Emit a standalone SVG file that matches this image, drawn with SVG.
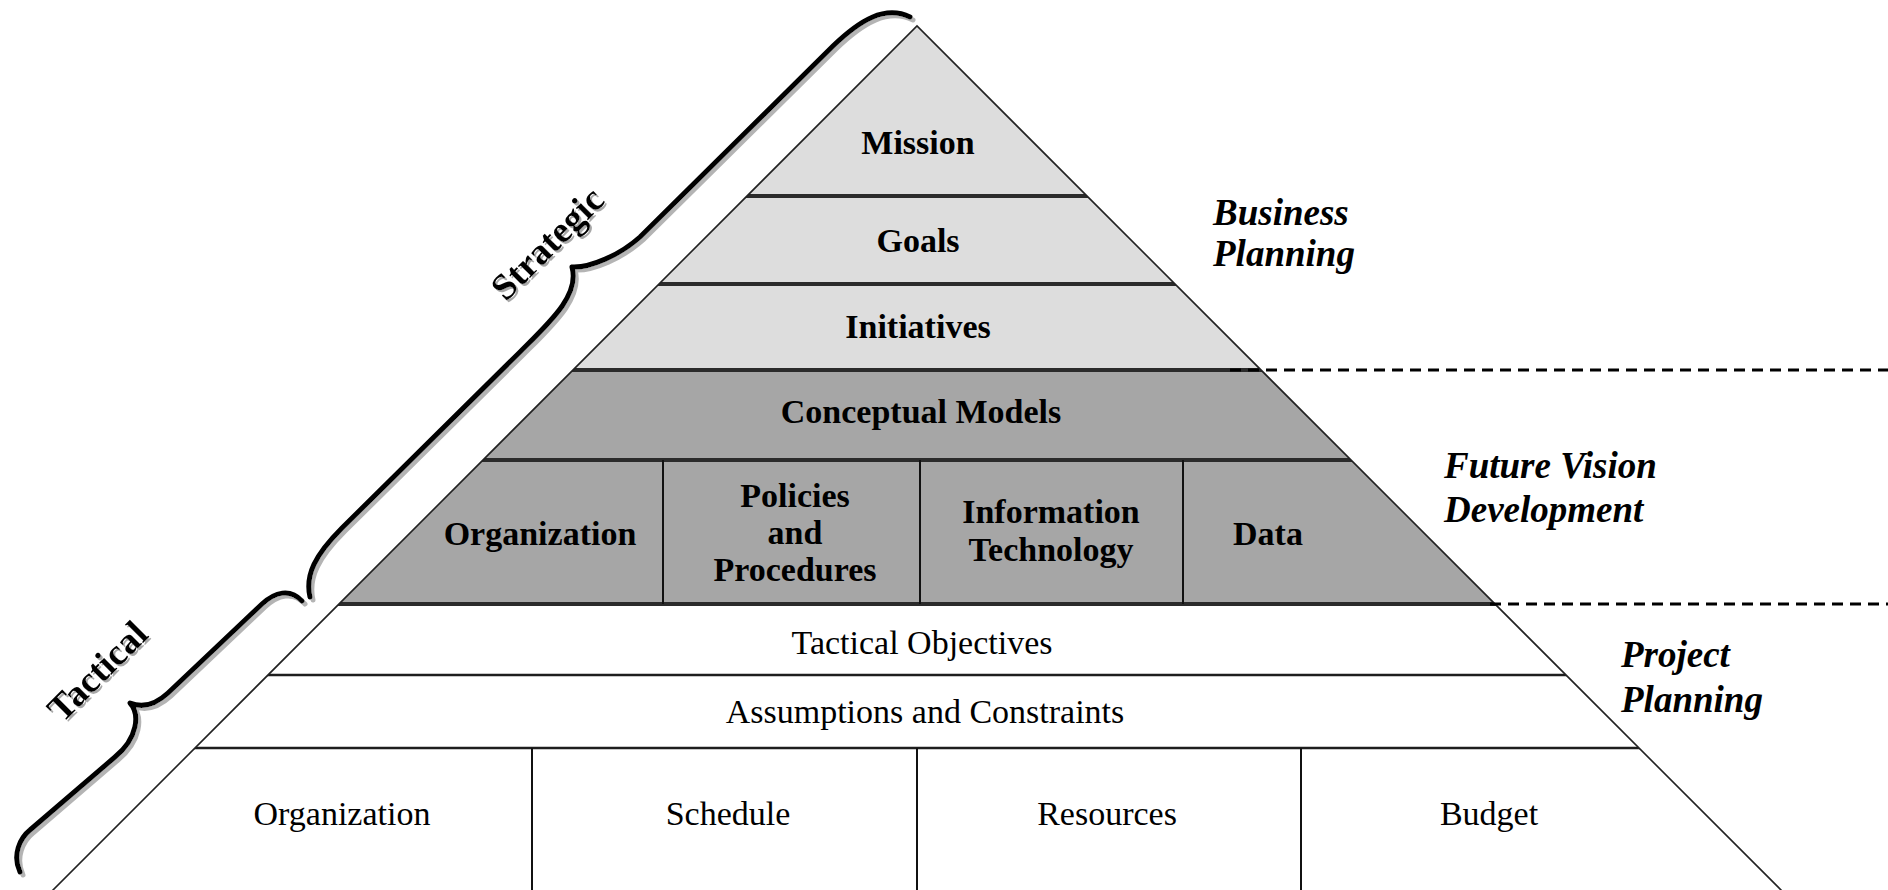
<svg xmlns="http://www.w3.org/2000/svg" width="1888" height="890" viewBox="0 0 1888 890">
  <defs>
    <clipPath id="tri">
      <polygon points="917,26 43,900 1791,900"/>
    </clipPath>
    <filter id="shadow" x="-10%" y="-10%" width="130%" height="130%">
      <feOffset in="SourceAlpha" dx="3" dy="3" result="off"/>
      <feFlood flood-color="#b4b4b4"/>
      <feComposite in2="off" operator="in" result="sh"/>
      <feMerge><feMergeNode in="sh"/><feMergeNode in="SourceGraphic"/></feMerge>
    </filter>
    <filter id="tshadow" x="-10%" y="-10%" width="130%" height="130%">
      <feOffset in="SourceAlpha" dx="2" dy="2" result="off"/>
      <feFlood flood-color="#a8a8a8"/>
      <feComposite in2="off" operator="in" result="sh"/>
      <feMerge><feMergeNode in="sh"/><feMergeNode in="SourceGraphic"/></feMerge>
    </filter>
  </defs>
  <style>
    .light { fill: #dddddd; }
    .dark { fill: #a6a6a6; }
    .band { stroke: #2b2b2b; stroke-width: 4; }
    .thin { stroke: #1e1e1e; stroke-width: 2.5; }
    .div { stroke: #111111; stroke-width: 2; }
    .edge { fill: none; stroke: #222222; stroke-width: 1.6; }
    .dash { stroke: #000000; stroke-width: 3; stroke-dasharray: 11 7; }
    .brace { fill: none; stroke: #000000; stroke-width: 5; stroke-linecap: round; stroke-linejoin: round; }
    text { font-family: "Liberation Serif", "Times New Roman", serif; fill: #000000; }
    .b { font-size: 34px; font-weight: bold; text-anchor: middle; }
    .r { font-size: 34px; text-anchor: middle; }
    .bi { font-size: 37px; font-weight: bold; font-style: italic; }
    .rot { font-size: 37px; font-weight: bold; text-anchor: middle; }
  </style>
  <rect x="0" y="0" width="1888" height="890" fill="#ffffff"/>

  <g id="pyramid-fill" clip-path="url(#tri)">
    <rect class="light" x="0" y="0" width="1888" height="370"/>
    <rect class="dark" x="0" y="370" width="1888" height="234"/>
    <rect fill="#ffffff" x="0" y="604" width="1888" height="300"/>
  </g>

  <g id="separators" clip-path="url(#tri)">
    <line class="band" x1="0" y1="196" x2="1888" y2="196"/>
    <line class="band" x1="0" y1="284" x2="1888" y2="284"/>
    <line class="band" x1="0" y1="370" x2="1888" y2="370"/>
    <line class="band" x1="0" y1="460" x2="1888" y2="460"/>
    <line class="band" x1="0" y1="604" x2="1888" y2="604"/>
    <line class="thin" x1="0" y1="675" x2="1888" y2="675"/>
    <line class="thin" x1="0" y1="748" x2="1888" y2="748"/>
    <line class="div" x1="663" y1="460" x2="663" y2="604"/>
    <line class="div" x1="920" y1="460" x2="920" y2="604"/>
    <line class="div" x1="1183" y1="460" x2="1183" y2="604"/>
    <line class="div" x1="532" y1="748" x2="532" y2="900"/>
    <line class="div" x1="917" y1="748" x2="917" y2="900"/>
    <line class="div" x1="1301" y1="748" x2="1301" y2="900"/>
  </g>

  <g id="outline">
    <polyline class="edge" points="43,900 917,26 1791,900"/>
  </g>

  <g id="connectors">
    <line class="dash" x1="1230" y1="370" x2="1888" y2="370"/>
    <line class="dash" x1="1490" y1="604" x2="1888" y2="604"/>
  </g>

  <g id="mission"><text class="b" x="918" y="154">Mission</text></g>
  <g id="goals"><text class="b" x="918" y="252">Goals</text></g>
  <g id="initiatives"><text class="b" x="918" y="338">Initiatives</text></g>
  <g id="conceptual-models"><text class="b" x="921" y="423">Conceptual Models</text></g>
  <g id="cm-organization"><text class="b" x="540" y="545">Organization</text></g>
  <g id="cm-policies"><text class="b" x="795" y="507">Policies</text><text class="b" x="795" y="544">and</text><text class="b" x="795" y="581">Procedures</text></g>
  <g id="cm-it"><text class="b" x="1051" y="523">Information</text><text class="b" x="1051" y="561">Technology</text></g>
  <g id="cm-data"><text class="b" x="1268" y="545">Data</text></g>
  <g id="tactical-objectives"><text class="r" x="922" y="654">Tactical Objectives</text></g>
  <g id="assumptions"><text class="r" x="925" y="723">Assumptions and Constraints</text></g>
  <g id="pp-organization"><text class="r" x="342" y="825">Organization</text></g>
  <g id="pp-schedule"><text class="r" x="728" y="825">Schedule</text></g>
  <g id="pp-resources"><text class="r" x="1107" y="825">Resources</text></g>
  <g id="pp-budget"><text class="r" x="1489" y="825">Budget</text></g>

  <g id="business-planning"><text class="bi" x="1213" y="225">Business</text><text class="bi" x="1213" y="266">Planning</text></g>
  <g id="future-vision"><text class="bi" x="1444" y="478">Future Vision</text><text class="bi" x="1444" y="522">Development</text></g>
  <g id="project-planning"><text class="bi" x="1621" y="667">Project</text><text class="bi" x="1621" y="712">Planning</text></g>

  <g id="strategic-brace" filter="url(#shadow)">
    <path class="brace" d="M 310,597 C 305,575 315,555 342,528 L 520,352 C 550,322 580,295 572,267 C 590,268 620,255 640,237 L 833,46 C 860,20 885,5 910,17"/>
  </g>
  <g id="strategic-label" filter="url(#tshadow)">
    <text class="rot" x="556" y="252" transform="rotate(-45 556 252)">Strategic</text>
  </g>
  <g id="tactical-brace" filter="url(#shadow)">
    <path class="brace" d="M 302,601 C 290,588 275,592 262,604 L 168,693 C 155,705 142,708 130,703 C 140,714 138,738 115,757 L 30,830 C 20,838 12,855 20,872"/>
  </g>
  <g id="tactical-label" filter="url(#tshadow)">
    <text class="rot" x="106" y="680" transform="rotate(-45 106 680)">Tactical</text>
  </g>
</svg>
